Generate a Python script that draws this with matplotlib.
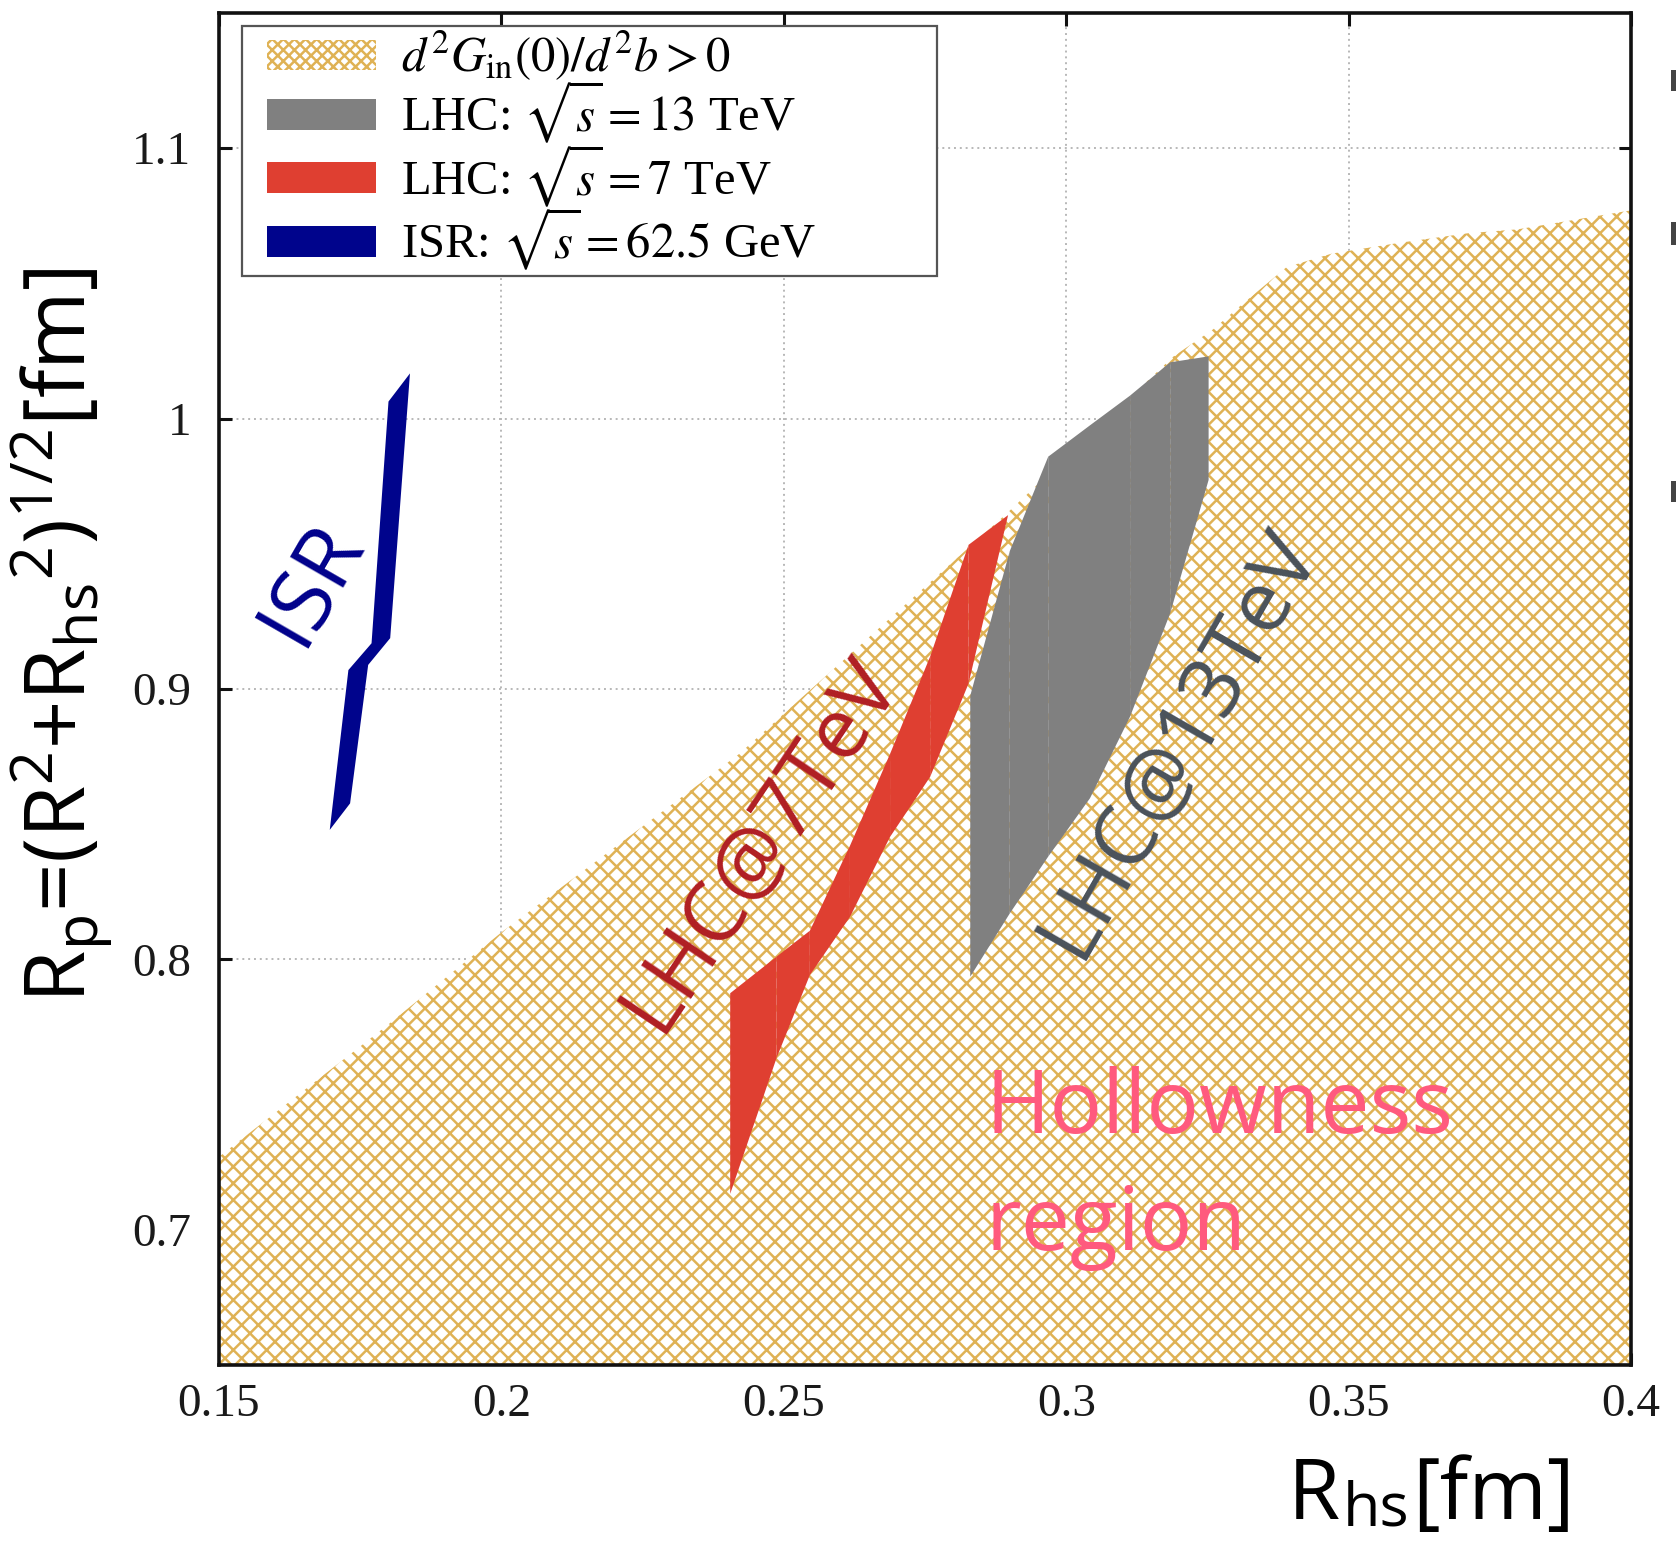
import matplotlib
matplotlib.use("Agg")
import matplotlib.pyplot as plt
from matplotlib.patches import Patch, Rectangle
from matplotlib.legend_handler import HandlerPatch
from matplotlib.ticker import FuncFormatter

# ---------------- data ----------------
# upper boundary of the region d^2 G_in(0)/d^2 b > 0 (hollowness region)
hollow_x = [0.15, 0.18, 0.20, 0.2421, 0.2895, 0.319, 0.326, 0.331, 0.339, 0.347, 0.359, 0.371, 0.380, 0.40]
hollow_y = [0.727, 0.776, 0.810, 0.876, 0.965, 1.023, 1.033, 1.042, 1.056, 1.061, 1.065, 1.0685, 1.070, 1.077]

# LHC 13 TeV band (columns)
lhc13_x = [0.2830, 0.2900, 0.2968, 0.3042, 0.3113, 0.3184, 0.3252]
lhc13_low = [0.7936, 0.8170, 0.8380, 0.8596, 0.8898, 0.9280, 0.9773]
lhc13_up = [0.8975, 0.9510, 0.9859, 0.9975, 1.0085, 1.0208, 1.0230]

# LHC 7 TeV band (columns)
lhc7_x = [0.2405, 0.2487, 0.2546, 0.2617, 0.2688, 0.2759, 0.2827, 0.2897]
lhc7_low = [0.7133, 0.7635, 0.7942, 0.8157, 0.8453, 0.8675, 0.9020, 0.9643]
lhc7_up = [0.7875, 0.8010, 0.8106, 0.8420, 0.8760, 0.9120, 0.9533, 0.9643]

# ISR 62.5 GeV band (outline)
isr_x = [0.1696, 0.1729, 0.1770, 0.1800, 0.1838, 0.1803, 0.1764, 0.1732]
isr_y = [0.8479, 0.9070, 0.9169, 1.0063, 1.0167, 0.9188, 0.9089, 0.8577]

x_ticks = [0.15, 0.2, 0.25, 0.3, 0.35, 0.4]
y_ticks = [0.7, 0.8, 0.9, 1.0, 1.1]

legend_labels = [r"$d^2G_{\rm in}(0)/d^2b>0$",
                 r"LHC: $\sqrt{s}=13$ TeV",
                 r"LHC: $\sqrt{s}=7$ TeV",
                 r"ISR: $\sqrt{s}=62.5$ GeV"]

# ---------------- style ----------------
HATCH_C = "#DFB255"
GRAY_C = "#808080"
RED_C = "#DF3F31"
NAVY_C = "#00048C"
HAND = ["Open Sans", "DejaVu Sans"]
SERIF = ["Liberation Serif", "DejaVu Serif"]
W, H = 1676, 1541
LEG_FS = 35

plt.rcParams["hatch.linewidth"] = 1.8
plt.rcParams["mathtext.fontset"] = "stix"

fig = plt.figure(figsize=(W / 100, H / 100), dpi=100)
ax = fig.add_axes([0.1307, 0.1142, 0.8425, 0.8774])
ax.set_xlim(0.15, 0.4)
ax.set_ylim(0.65, 1.15)

ax.set_axisbelow(True)
ax.grid(True, linestyle=(0, (1, 2)), color="#b8b8b8", linewidth=1.4)

# hollowness region
ax.fill_between(hollow_x, hollow_y, 0.6, facecolor="white", edgecolor=HATCH_C,
                hatch="xx", linewidth=0, zorder=1)

# LHC 13 TeV (column pieces give the faint seams)
for i in range(len(lhc13_x) - 1):
    ax.fill_between(lhc13_x[i:i + 2], lhc13_low[i:i + 2], lhc13_up[i:i + 2],
                    facecolor=GRAY_C, linewidth=0, zorder=2)
# LHC 7 TeV
for i in range(len(lhc7_x) - 1):
    ax.fill_between(lhc7_x[i:i + 2], lhc7_low[i:i + 2], lhc7_up[i:i + 2],
                    facecolor=RED_C, linewidth=0, zorder=2)
# ISR
ax.fill(isr_x, isr_y, facecolor=NAVY_C, linewidth=0, zorder=2)

# axes styling
for s in ax.spines.values():
    s.set_linewidth(2.6)
    s.set_color("#111111")
ax.set_xticks(x_ticks)
ax.set_yticks(y_ticks)
fmt = FuncFormatter(lambda v, p: "%g" % v)
ax.xaxis.set_major_formatter(fmt)
ax.yaxis.set_major_formatter(fmt)
ax.tick_params(direction="in", length=9, width=2.2, top=True, right=True,
               labelsize=34, colors="#111111")
ax.tick_params(axis="x", pad=13)
ax.tick_params(axis="y", pad=20)
for lab in ax.get_xticklabels() + ax.get_yticklabels():
    lab.set_fontfamily(SERIF)
    lab.set_color("#1a1a1a")


# legend: swatch shifted right inside its handle box
def shifted_patch(legend, orig_handle, xdescent, ydescent, width, height, fontsize):
    dx = 0.46 * fontsize
    return Rectangle((-xdescent + dx, -ydescent), width - dx, height)


handles = [Patch(facecolor="white", edgecolor=HATCH_C, hatch="xxx", linewidth=0),
           Patch(facecolor=GRAY_C, linewidth=0),
           Patch(facecolor=RED_C, linewidth=0),
           Patch(facecolor=NAVY_C, linewidth=0)]
leg = ax.legend(handles, legend_labels, loc="upper left", mode="expand",
                bbox_to_anchor=(0.0163, 0.5, 0.4925, 0.4904), borderaxespad=0,
                prop={"family": SERIF, "size": LEG_FS}, fancybox=False,
                framealpha=1, edgecolor="#555555", handlelength=2.7,
                handleheight=0.6, handletextpad=0.5, labelspacing=-0.08,
                borderpad=0.06,
                handler_map={Patch: HandlerPatch(patch_func=shifted_patch)})
leg.get_frame().set_linewidth(1.6)
leg.set_zorder(5)

# annotations
ax.text(0.1665, 0.939, "ISR", color="#00008B", fontsize=62, family=HAND,
        rotation=60, rotation_mode="anchor", ha="center", va="center", zorder=4)
ax.text(0.2460, 0.8425, "LHC@7TeV", color="#B01E23", fontsize=61, family=HAND,
        rotation=56, rotation_mode="anchor", ha="center", va="center", zorder=4)
ax.text(0.3200, 0.8800, "LHC@13TeV", color="#4A525B", fontsize=61, family=HAND,
        rotation=60, rotation_mode="anchor", ha="center", va="center", zorder=4)
ax.text(0.2857, 0.7358, "Hollowness", color="#FF5A7E", fontsize=63, family=HAND,
        ha="left", va="baseline", zorder=4)
ax.text(0.2857, 0.6925, "region", color="#FF5A7E", fontsize=63, family=HAND,
        ha="left", va="baseline", zorder=4)

# x axis label composed of pieces: R, subscript hs, [fm]
renderer = fig.canvas.get_renderer()
base_y = 1519
t_r = fig.text(1288 / W, 1 - base_y / H, "R", fontsize=61, family=HAND,
               ha="left", va="baseline", color="black")
x1 = t_r.get_window_extent(renderer).x1
t_hs = fig.text((x1 + 2) / W, 1 - (base_y + 6) / H, "hs", fontsize=44, family=HAND,
                ha="left", va="baseline", color="black")
x2 = t_hs.get_window_extent(renderer).x1
fig.text((x2 + 3) / W, 1 - base_y / H, "[fm]", fontsize=61, family=HAND,
         ha="left", va="baseline", color="black")

# y axis label
fig.text(62 / W, 1 - 636 / H,
         r"R$\mathregular{_p}$=(R$\mathregular{^2}$+R$\mathregular{_{hs}{}^2}$)$\mathregular{^{1/2}}$[fm]",
         fontsize=61, family=HAND, rotation=90, ha="center", va="center", color="black")

# small screenshot marks at the right edge
for y0, h in [(70, 21), (222, 23), (481, 21)]:
    fig.add_artist(Rectangle((1671 / W, 1 - (y0 + h) / H), 5 / W, h / H,
                             transform=fig.transFigure, color="#444444", linewidth=0))

fig.savefig("out.png", dpi=100)
